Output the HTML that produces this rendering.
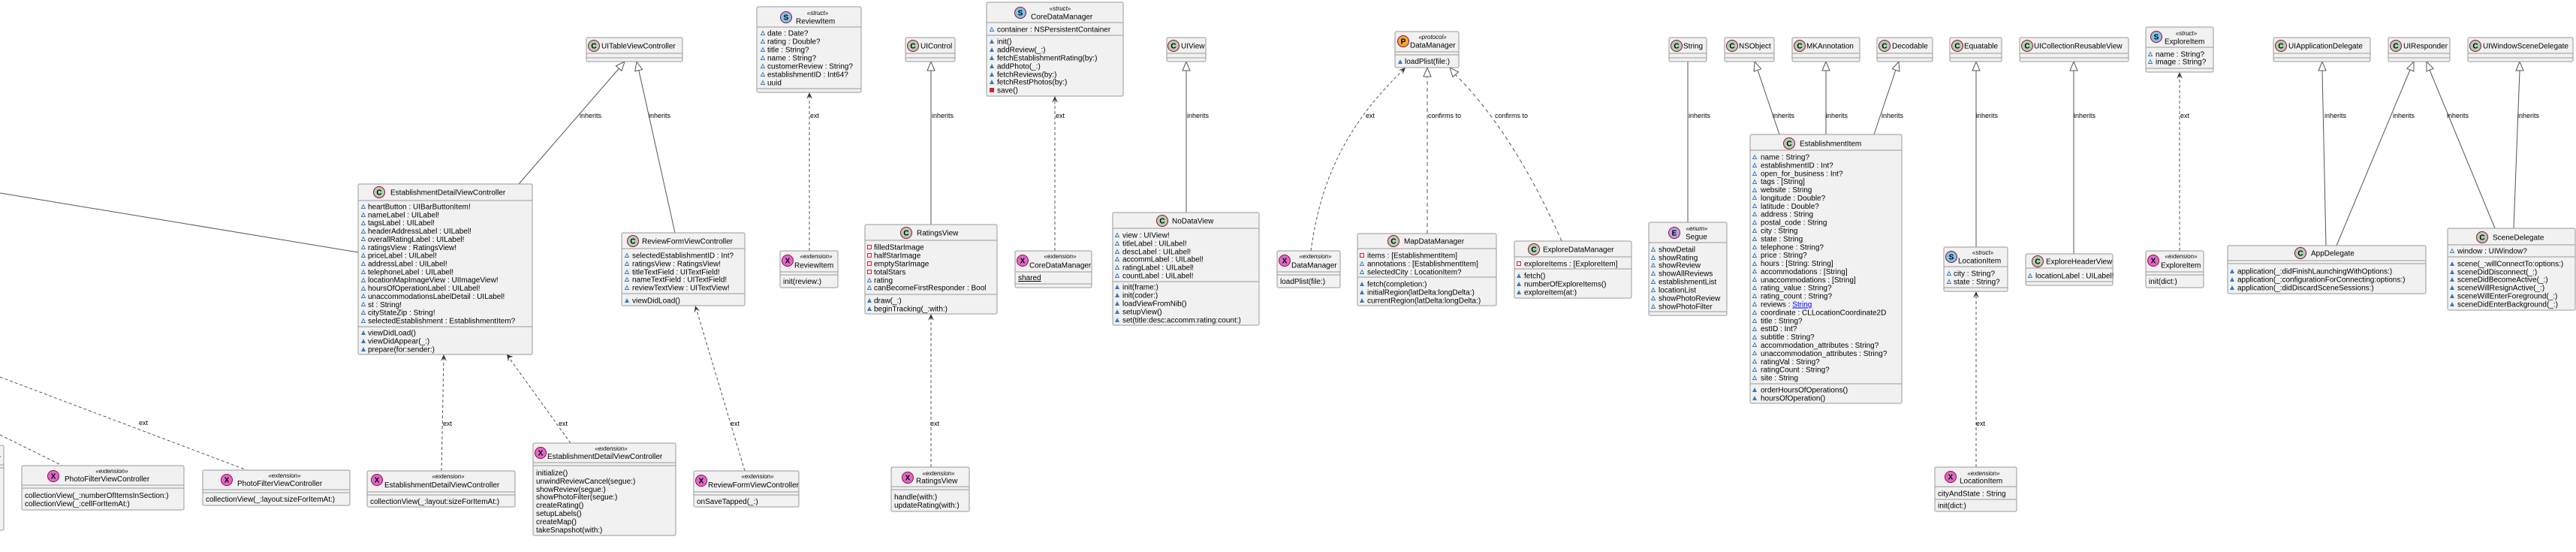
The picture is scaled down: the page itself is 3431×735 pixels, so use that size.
<!DOCTYPE html>
<html><head><meta charset="utf-8"><style>
html,body{margin:0;padding:0;background:#fff;}
svg{display:block;}
text{font-family:"Liberation Sans",sans-serif;font-size:10px;fill:#000;}
.st{font-style:italic;font-size:8px;}
.lb{font-size:9px;}
.ic{font-weight:bold;font-size:10px;}
.b{fill:#F1F1F1;stroke:#999;stroke-width:1;}
.sp{stroke:#999;stroke-width:1;}
.ln{stroke:#555;stroke-width:1;fill:none;}
.dl{stroke:#555;stroke-width:1;fill:none;stroke-dasharray:4,3;}
.tri{fill:#fff;stroke:#555;stroke-width:1;}
.ar{fill:#333;}
</style></head><body>
<svg width="3431" height="735" viewBox="0 0 3431 735" xmlns="http://www.w3.org/2000/svg">
<defs>
<g id="fa"><path d="M0.5,5.5 L3,0.5 L5.5,5.5Z" fill="none" stroke="#3a78b8" stroke-width="0.9"/></g>
<g id="ma"><path d="M0,6 L3,0 L6,6Z" fill="#3a78b8"/></g>
<g id="fp"><rect x="0.5" y="0.5" width="5" height="5" fill="none" stroke="#c82930"/></g>
<g id="mp"><rect width="6" height="6" fill="#c82930"/></g>
</defs>

<!-- ========== connectors ========== -->
<line class="ln" x1="0" y1="257" x2="477" y2="336"/>
<line class="dl" x1="0" y1="502" x2="329" y2="626"/>
<text class="lb" x="185" y="566">ext</text>
<line class="dl" x1="0" y1="579" x2="83" y2="620"/>

<!-- UITableViewController -->
<line class="ln" x1="691" y1="245" x2="828" y2="87"/>
<polygon class="tri" points="832,82 828,94.4 820.4,87.8"/>
<text class="lb" x="772" y="157">inherits</text>
<line class="ln" x1="899" y1="310" x2="850" y2="90"/>
<polygon class="tri" points="848,82 855.5,92.6 845.7,94.8"/>
<text class="lb" x="864" y="157">inherits</text>

<!-- EDVC ext -->
<line class="dl" x1="588" y1="627" x2="591" y2="476"/>
<polygon class="ar" points="591,472 587,481 591,477 595,481"/>
<text class="lb" x="590" y="567">ext</text>
<line class="dl" x1="760" y1="590" x2="677" y2="475"/>
<polygon class="ar" points="675,472 677,481.6 677.9,476.1 683.5,475"/>
<text class="lb" x="744" y="567">ext</text>
<line class="dl" x1="992" y1="627" x2="927" y2="410"/>
<polygon class="ar" points="926,407 924.8,416.8 927.4,411.8 932.2,414.5"/>
<text class="lb" x="973" y="567">ext</text>

<!-- ReviewItem ext -->
<line class="dl" x1="1078" y1="334" x2="1078" y2="127"/>
<polygon class="ar" points="1078,123 1074,132 1078,128 1082,132"/>
<text class="lb" x="1079" y="157">ext</text>

<!-- UIControl -->
<line class="ln" x1="1240" y1="299" x2="1240" y2="94"/>
<polygon class="tri" points="1240,82 1235,94 1245,94"/>
<text class="lb" x="1241" y="157">inherits</text>
<line class="dl" x1="1240" y1="622" x2="1240" y2="422"/>
<polygon class="ar" points="1240,418 1236,427 1240,423 1244,427"/>
<text class="lb" x="1239" y="567">ext</text>

<!-- CoreDataManager ext -->
<line class="dl" x1="1405" y1="334" x2="1405" y2="132"/>
<polygon class="ar" points="1405,128 1401,137 1405,133 1409,137"/>
<text class="lb" x="1406" y="157">ext</text>

<!-- UIView -->
<line class="ln" x1="1580" y1="283" x2="1580" y2="94"/>
<polygon class="tri" points="1580,82 1575,94 1585,94"/>
<text class="lb" x="1581" y="157">inherits</text>

<!-- DataManager -->
<path class="dl" d="M1746,334 C1760,230 1800,160 1869,93"/>
<polygon class="ar" points="1872,90 1862.7,93.4 1868.4,93.5 1868.3,99.2"/>
<text class="lb" x="1819" y="157">ext</text>
<line class="ln" x1="1901" y1="311" x2="1901" y2="102" stroke-dasharray="5,4"/>
<polygon class="tri" points="1901,90 1896,102 1906,102"/>
<text class="lb" x="1902" y="157">confirms to</text>
<path class="ln" stroke-dasharray="5,4" d="M2080,321 C2040,230 1990,150 1938,99"/>
<polygon class="tri" points="1931,90 1942.6,95.9 1935,102.4"/>
<text class="lb" x="1991" y="157">confirms to</text>

<!-- String/NSObject/MK/Decodable -->
<line class="ln" x1="2248" y1="296" x2="2248" y2="82"/>
<text class="lb" x="2249" y="157">inherits</text>
<line class="ln" x1="2370" y1="179" x2="2341" y2="93"/>
<polygon class="tri" points="2337,82 2345.6,91.8 2336.1,95"/>
<text class="lb" x="2361" y="157">inherits</text>
<line class="ln" x1="2432" y1="179" x2="2432" y2="94"/>
<polygon class="tri" points="2432,82 2427,94 2437,94"/>
<text class="lb" x="2432" y="157">inherits</text>
<line class="ln" x1="2496" y1="179" x2="2525" y2="93"/>
<polygon class="tri" points="2529,82 2529.9,95 2520.4,91.8"/>
<text class="lb" x="2506" y="157">inherits</text>
<line class="ln" x1="2632" y1="329" x2="2632" y2="94"/>
<polygon class="tri" points="2632,82 2627,94 2637,94"/>
<text class="lb" x="2632" y="157">inherits</text>
<line class="ln" x1="2762" y1="338" x2="2762" y2="94"/>
<polygon class="tri" points="2762,82 2757,94 2767,94"/>
<text class="lb" x="2762" y="157">inherits</text>
<line class="dl" x1="2903" y1="334" x2="2903" y2="100"/>
<polygon class="ar" points="2903,96 2899,105 2903,101 2907,105"/>
<text class="lb" x="2904" y="157">ext</text>
<line class="dl" x1="2632" y1="622" x2="2632" y2="392"/>
<polygon class="ar" points="2632,388 2628,397 2632,393 2636,397"/>
<text class="lb" x="2632" y="567">ext</text>

<!-- App/Scene -->
<line class="ln" x1="3098" y1="327" x2="3093" y2="94"/>
<polygon class="tri" points="3093,82 3088,94 3098,94"/>
<text class="lb" x="3096" y="157">inherits</text>
<line class="ln" x1="3112" y1="327" x2="3210" y2="93"/>
<polygon class="tri" points="3215,82 3215,95 3205.8,91.2"/>
<text class="lb" x="3187" y="157">inherits</text>
<line class="ln" x1="3323" y1="304" x2="3236" y2="93"/>
<polygon class="tri" points="3232,82 3241.1,91.2 3231.9,95"/>
<text class="lb" x="3259" y="157">inherits</text>
<line class="ln" x1="3348" y1="304" x2="3356" y2="94"/>
<polygon class="tri" points="3356,82 3351,94 3361,94"/>
<text class="lb" x="3353" y="157">inherits</text>

<!-- ========== boxes ========== -->
<!-- partial left box -->
<rect class="b" x="-50" y="593" width="55" height="113" rx="2"/>
<text x="-2" y="613">r</text>
<line class="sp" x1="-50" y1="619" x2="5" y2="619"/><line class="sp" x1="-50" y1="623" x2="5" y2="623"/>

<!-- PFVC ext1 -->
<rect class="b" x="29" y="620" width="216" height="59" rx="2"/>
<circle cx="71" cy="634" r="7.5" fill="#DA6BCB" stroke="#A80036"/><text class="ic" x="71" y="637.5" text-anchor="middle">X</text>
<text class="st" x="149" y="630" text-anchor="middle">«extension»</text>
<text x="86" y="641">PhotoFilterViewController</text>
<line class="sp" x1="29" y1="646" x2="245" y2="646"/><line class="sp" x1="29" y1="650" x2="245" y2="650"/>
<text x="33" y="663">collectionView(_:numberOfItemsInSection:)</text>
<text x="33" y="674">collectionView(_:cellForItemAt:)</text>

<!-- PFVC ext2 -->
<rect class="b" x="270" y="626" width="196" height="47" rx="2"/>
<circle cx="302" cy="639" r="7.5" fill="#DA6BCB" stroke="#A80036"/><text class="ic" x="302" y="642.5" text-anchor="middle">X</text>
<text class="st" x="379" y="636" text-anchor="middle">«extension»</text>
<text x="316" y="647">PhotoFilterViewController</text>
<line class="sp" x1="270" y1="652" x2="466" y2="652"/><line class="sp" x1="270" y1="656" x2="466" y2="656"/>
<text x="274" y="668">collectionView(_:layout:sizeForItemAt:)</text>

<!-- EDVC ext small -->
<rect class="b" x="489" y="627" width="197" height="48" rx="2"/>
<circle cx="502" cy="639" r="7.5" fill="#DA6BCB" stroke="#A80036"/><text class="ic" x="502" y="642.5" text-anchor="middle">X</text>
<text class="st" x="597" y="637" text-anchor="middle">«extension»</text>
<text x="512" y="649">EstablishmentDetailViewController</text>
<line class="sp" x1="489" y1="655" x2="686" y2="655"/><line class="sp" x1="489" y1="659" x2="686" y2="659"/>
<text x="493" y="671">collectionView(_:layout:sizeForItemAt:)</text>

<!-- EDVC ext big -->
<rect class="b" x="710" y="590" width="190" height="123" rx="2"/>
<circle cx="720" cy="603" r="7.5" fill="#DA6BCB" stroke="#A80036"/><text class="ic" x="720" y="606.5" text-anchor="middle">X</text>
<text class="st" x="814" y="600" text-anchor="middle">«extension»</text>
<text x="729" y="611">EstablishmentDetailViewController</text>
<line class="sp" x1="710" y1="616" x2="900" y2="616"/><line class="sp" x1="710" y1="620" x2="900" y2="620"/>
<text x="714" y="633">initialize()</text>
<text x="714" y="644">unwindReviewCancel(segue:)</text>
<text x="714" y="655">showReview(segue:)</text>
<text x="714" y="665">showPhotoFilter(segue:)</text>
<text x="714" y="676">createRating()</text>
<text x="714" y="687">setupLabels()</text>
<text x="714" y="698">createMap()</text>
<text x="714" y="709">takeSnapshot(with:)</text>

<!-- RFVC ext -->
<rect class="b" x="924" y="627" width="140" height="48" rx="2"/>
<circle cx="934" cy="640" r="7.5" fill="#DA6BCB" stroke="#A80036"/><text class="ic" x="934" y="643.5" text-anchor="middle">X</text>
<text class="st" x="1009" y="637" text-anchor="middle">«extension»</text>
<text x="943" y="649">ReviewFormViewController</text>
<line class="sp" x1="924" y1="655" x2="1064" y2="655"/><line class="sp" x1="924" y1="659" x2="1064" y2="659"/>
<text x="928" y="671">onSaveTapped(_:)</text>

<!-- EDVC -->
<rect class="b" x="477" y="245" width="232" height="227" rx="2"/>
<circle cx="505" cy="256" r="7.5" fill="#ADD1B2" stroke="#A80036"/><text class="ic" x="505" y="259.5" text-anchor="middle">C</text>
<text x="520" y="259.5">EstablishmentDetailViewController</text>
<line class="sp" x1="477" y1="267" x2="709" y2="267"/>
<use href="#fa" x="481" y="272"/><text x="490" y="278.5">heartButton : UIBarButtonItem!</text>
<use href="#fa" x="481" y="283"/><text x="490" y="289.4">nameLabel : UILabel!</text>
<use href="#fa" x="481" y="294"/><text x="490" y="300.2">tagsLabel : UILabel!</text>
<use href="#fa" x="481" y="305"/><text x="490" y="311.1">headerAddressLabel : UILabel!</text>
<use href="#fa" x="481" y="315"/><text x="490" y="321.9">overallRatingLabel : UILabel!</text>
<use href="#fa" x="481" y="326"/><text x="490" y="332.8">ratingsView : RatingsView!</text>
<use href="#fa" x="481" y="337"/><text x="490" y="343.7">priceLabel : UILabel!</text>
<use href="#fa" x="481" y="348"/><text x="490" y="354.5">addressLabel : UILabel!</text>
<use href="#fa" x="481" y="359"/><text x="490" y="365.4">telephoneLabel : UILabel!</text>
<use href="#fa" x="481" y="370"/><text x="490" y="376.2">locationMapImageView : UIImageView!</text>
<use href="#fa" x="481" y="381"/><text x="490" y="387.1">hoursOfOperationLabel : UILabel!</text>
<use href="#fa" x="481" y="391"/><text x="490" y="398">unaccommodationsLabelDetail : UILabel!</text>
<use href="#fa" x="481" y="402"/><text x="490" y="408.8">st : String!</text>
<use href="#fa" x="481" y="413"/><text x="490" y="419.7">cityStateZip : String!</text>
<use href="#fa" x="481" y="424"/><text x="490" y="430.5">selectedEstablishment : EstablishmentItem?</text>
<line class="sp" x1="477" y1="435" x2="709" y2="435"/>
<use href="#ma" x="481" y="440"/><text x="490" y="446.5">viewDidLoad()</text>
<use href="#ma" x="481" y="451"/><text x="490" y="457.5">viewDidAppear(_:)</text>
<use href="#ma" x="481" y="462"/><text x="490" y="468.5">prepare(for:sender:)</text>

<!-- RFVC -->
<rect class="b" x="828" y="310" width="164" height="97" rx="2"/>
<circle cx="843" cy="321" r="7.5" fill="#ADD1B2" stroke="#A80036"/><text class="ic" x="843" y="324.5" text-anchor="middle">C</text>
<text x="855" y="324.5">ReviewFormViewController</text>
<line class="sp" x1="828" y1="331" x2="992" y2="331"/>
<use href="#fa" x="832" y="337"/><text x="842" y="343.5">selectedEstablishmentID : Int?</text>
<use href="#fa" x="832" y="348"/><text x="842" y="354.5">ratingsView : RatingsView!</text>
<use href="#fa" x="832" y="359"/><text x="842" y="365.5">titleTextField : UITextField!</text>
<use href="#fa" x="832" y="369"/><text x="842" y="375.5">nameTextField : UITextField!</text>
<use href="#fa" x="832" y="380"/><text x="842" y="386.5">reviewTextView : UITextView!</text>
<line class="sp" x1="828" y1="391" x2="992" y2="391"/>
<use href="#ma" x="832" y="397"/><text x="842" y="403.5">viewDidLoad()</text>

<!-- UITableViewController -->
<rect class="b" x="781" y="50" width="128" height="32" rx="2"/>
<circle cx="791" cy="61" r="7.5" fill="#ADD1B2" stroke="#A80036"/><text class="ic" x="791" y="64.5" text-anchor="middle">C</text>
<text x="801" y="64.5">UITableViewController</text>
<line class="sp" x1="781" y1="71" x2="909" y2="71"/><line class="sp" x1="781" y1="77" x2="909" y2="77"/>

<!-- ReviewItem struct -->
<rect class="b" x="1008" y="9" width="139" height="114" rx="2"/>
<circle cx="1047" cy="23" r="7.5" fill="#7FC6E8" stroke="#A80036"/><text class="ic" x="1047" y="26.5" text-anchor="middle">S</text>
<text class="st" x="1089" y="20" text-anchor="middle">«struct»</text>
<text x="1060" y="31.5">ReviewItem</text>
<line class="sp" x1="1008" y1="36" x2="1147" y2="36"/>
<use href="#fa" x="1013" y="41"/><text x="1022" y="47.5">date : Date?</text>
<use href="#fa" x="1013" y="52"/><text x="1022" y="58.5">rating : Double?</text>
<use href="#fa" x="1013" y="63"/><text x="1022" y="69.5">title : String?</text>
<use href="#fa" x="1013" y="74"/><text x="1022" y="80.5">name : String?</text>
<use href="#fa" x="1013" y="85"/><text x="1022" y="91.5">customerReview : String?</text>
<use href="#fa" x="1013" y="96"/><text x="1022" y="102.5">establishmentID : Int64?</text>
<use href="#fa" x="1013" y="107"/><text x="1022" y="113.5">uuid</text>
<line class="sp" x1="1008" y1="118" x2="1147" y2="118"/>

<!-- ReviewItem ext -->
<rect class="b" x="1039" y="334" width="77" height="49" rx="2"/>
<circle cx="1049" cy="347" r="7.5" fill="#DA6BCB" stroke="#A80036"/><text class="ic" x="1049" y="350.5" text-anchor="middle">X</text>
<text class="st" x="1087" y="344" text-anchor="middle">«extension»</text>
<text x="1058" y="356.5">ReviewItem</text>
<line class="sp" x1="1039" y1="362" x2="1116" y2="362"/><line class="sp" x1="1039" y1="366" x2="1116" y2="366"/>
<text x="1043" y="378">init(review:)</text>

<!-- UIControl -->
<rect class="b" x="1206" y="50" width="66" height="32" rx="2"/>
<circle cx="1216" cy="61" r="7.5" fill="#ADD1B2" stroke="#A80036"/><text class="ic" x="1216" y="64.5" text-anchor="middle">C</text>
<text x="1226" y="64.5">UIControl</text>
<line class="sp" x1="1206" y1="71" x2="1272" y2="71"/><line class="sp" x1="1206" y1="77" x2="1272" y2="77"/>

<!-- RatingsView -->
<rect class="b" x="1152" y="299" width="176" height="119" rx="2"/>
<circle cx="1207" cy="310" r="7.5" fill="#ADD1B2" stroke="#A80036"/><text class="ic" x="1207" y="313.5" text-anchor="middle">C</text>
<text x="1221" y="313.5">RatingsView</text>
<line class="sp" x1="1152" y1="320" x2="1328" y2="320"/>
<use href="#fp" x="1155" y="326"/><text x="1164" y="332.5">filledStarImage</text>
<use href="#fp" x="1155" y="337"/><text x="1164" y="343.5">halfStarImage</text>
<use href="#fp" x="1155" y="348"/><text x="1164" y="354.5">emptyStarImage</text>
<use href="#fp" x="1155" y="359"/><text x="1164" y="365.5">totalStars</text>
<use href="#fa" x="1155" y="370"/><text x="1164" y="376.5">rating</text>
<use href="#fa" x="1155" y="380"/><text x="1164" y="386.5">canBecomeFirstResponder : Bool</text>
<line class="sp" x1="1152" y1="392" x2="1328" y2="392"/>
<use href="#ma" x="1155" y="397"/><text x="1164" y="403.5">draw(_:)</text>
<use href="#ma" x="1155" y="408"/><text x="1164" y="414.5">beginTracking(_:with:)</text>

<!-- RatingsView ext -->
<rect class="b" x="1187" y="622" width="104" height="59" rx="2"/>
<circle cx="1209" cy="636" r="7.5" fill="#DA6BCB" stroke="#A80036"/><text class="ic" x="1209" y="639.5" text-anchor="middle">X</text>
<text class="st" x="1250" y="633" text-anchor="middle">«extension»</text>
<text x="1220" y="643.5">RatingsView</text>
<line class="sp" x1="1187" y1="648" x2="1291" y2="648"/><line class="sp" x1="1187" y1="652" x2="1291" y2="652"/>
<text x="1191" y="665">handle(with:)</text>
<text x="1191" y="676">updateRating(with:)</text>

<!-- CoreDataManager struct -->
<rect class="b" x="1314" y="3" width="182" height="125" rx="2"/>
<circle cx="1359" cy="17" r="7.5" fill="#7FC6E8" stroke="#A80036"/><text class="ic" x="1359" y="20.5" text-anchor="middle">S</text>
<text class="st" x="1412" y="14" text-anchor="middle">«struct»</text>
<text x="1373" y="25.5">CoreDataManager</text>
<line class="sp" x1="1314" y1="30" x2="1496" y2="30"/>
<use href="#fa" x="1318" y="36"/><text x="1328" y="42.5">container : NSPersistentContainer</text>
<line class="sp" x1="1314" y1="47" x2="1496" y2="47"/>
<use href="#ma" x="1318" y="52"/><text x="1328" y="58.5">init()</text>
<use href="#ma" x="1318" y="63"/><text x="1328" y="69.5">addReview(_:)</text>
<use href="#ma" x="1318" y="74"/><text x="1328" y="80.5">fetchEstablishmentRating(by:)</text>
<use href="#ma" x="1318" y="85"/><text x="1328" y="91.5">addPhoto(_:)</text>
<use href="#ma" x="1318" y="96"/><text x="1328" y="102.5">fetchReviews(by:)</text>
<use href="#ma" x="1318" y="106"/><text x="1328" y="112.5">fetchRestPhotos(by:)</text>
<use href="#mp" x="1318" y="117"/><text x="1328" y="123.5">save()</text>

<!-- CoreDataManager ext -->
<rect class="b" x="1352" y="334" width="102" height="49" rx="2"/>
<circle cx="1362" cy="347" r="7.5" fill="#DA6BCB" stroke="#A80036"/><text class="ic" x="1362" y="350.5" text-anchor="middle">X</text>
<text class="st" x="1412" y="344" text-anchor="middle">«extension»</text>
<text x="1371" y="356.5">CoreDataManager</text>
<line class="sp" x1="1352" y1="362" x2="1454" y2="362"/>
<text x="1356" y="373" text-decoration="underline">shared</text>
<line class="sp" x1="1352" y1="378" x2="1454" y2="378"/>

<!-- UIView -->
<rect class="b" x="1554" y="50" width="52" height="32" rx="2"/>
<circle cx="1563" cy="61" r="7.5" fill="#ADD1B2" stroke="#A80036"/><text class="ic" x="1563" y="64.5" text-anchor="middle">C</text>
<text x="1573" y="64.5">UIView</text>
<line class="sp" x1="1554" y1="71" x2="1606" y2="71"/><line class="sp" x1="1554" y1="77" x2="1606" y2="77"/>

<!-- NoDataView -->
<rect class="b" x="1482" y="283" width="195" height="150" rx="2"/>
<circle cx="1548" cy="294" r="7.5" fill="#ADD1B2" stroke="#A80036"/><text class="ic" x="1548" y="297.5" text-anchor="middle">C</text>
<text x="1561" y="297.5">NoDataView</text>
<line class="sp" x1="1482" y1="304" x2="1677" y2="304"/>
<use href="#fa" x="1485" y="310"/><text x="1495" y="316.5">view : UIView!</text>
<use href="#fa" x="1485" y="321"/><text x="1495" y="327.5">titleLabel : UILabel!</text>
<use href="#fa" x="1485" y="332"/><text x="1495" y="338.5">descLabel : UILabel!</text>
<use href="#fa" x="1485" y="342"/><text x="1495" y="348.5">accommLabel : UILabel!</text>
<use href="#fa" x="1485" y="353"/><text x="1495" y="359.5">ratingLabel : UILabel!</text>
<use href="#fa" x="1485" y="364"/><text x="1495" y="370.5">countLabel : UILabel!</text>
<line class="sp" x1="1482" y1="375" x2="1677" y2="375"/>
<use href="#ma" x="1485" y="379"/><text x="1495" y="385.5">init(frame:)</text>
<use href="#ma" x="1485" y="390"/><text x="1495" y="396.5">init(coder:)</text>
<use href="#ma" x="1485" y="401"/><text x="1495" y="407.5">loadViewFromNib()</text>
<use href="#ma" x="1485" y="412"/><text x="1495" y="418.5">setupView()</text>
<use href="#ma" x="1485" y="423"/><text x="1495" y="429.5">set(title:desc:accomm:rating:count:)</text>

<!-- DataManager ext -->
<rect class="b" x="1701" y="334" width="84" height="49" rx="2"/>
<circle cx="1711" cy="347" r="7.5" fill="#DA6BCB" stroke="#A80036"/><text class="ic" x="1711" y="350.5" text-anchor="middle">X</text>
<text class="st" x="1752" y="344" text-anchor="middle">«extension»</text>
<text x="1720" y="356.5">DataManager</text>
<line class="sp" x1="1701" y1="362" x2="1785" y2="362"/><line class="sp" x1="1701" y1="366" x2="1785" y2="366"/>
<text x="1705" y="378">loadPlist(file:)</text>

<!-- DataManager protocol -->
<rect class="b" x="1858" y="42" width="85" height="48" rx="2"/>
<circle cx="1869" cy="55" r="7.5" fill="#F0A830" stroke="#A80036"/><text class="ic" x="1869" y="58.5" text-anchor="middle">P</text>
<text class="st" x="1908" y="52" text-anchor="middle">«protocol»</text>
<text x="1878" y="63.5">DataManager</text>
<line class="sp" x1="1858" y1="69" x2="1943" y2="69"/><line class="sp" x1="1858" y1="73" x2="1943" y2="73"/>
<use href="#ma" x="1862" y="79"/><text x="1871" y="85">loadPlist(file:)</text>

<!-- MapDataManager -->
<rect class="b" x="1808" y="311" width="185" height="96" rx="2"/>
<circle cx="1856" cy="321" r="7.5" fill="#ADD1B2" stroke="#A80036"/><text class="ic" x="1856" y="324.5" text-anchor="middle">C</text>
<text x="1870" y="324.5">MapDataManager</text>
<line class="sp" x1="1808" y1="331" x2="1993" y2="331"/>
<use href="#fp" x="1811" y="337"/><text x="1821" y="343.5">items : [EstablishmentItem]</text>
<use href="#fa" x="1811" y="348"/><text x="1821" y="354.5">annotations : [EstablishmentItem]</text>
<use href="#fa" x="1811" y="359"/><text x="1821" y="365.5">selectedCity : LocationItem?</text>
<line class="sp" x1="1808" y1="369" x2="1993" y2="369"/>
<use href="#ma" x="1811" y="375"/><text x="1821" y="381.5">fetch(completion:)</text>
<use href="#ma" x="1811" y="386"/><text x="1821" y="392.5">initialRegion(latDelta:longDelta:)</text>
<use href="#ma" x="1811" y="397"/><text x="1821" y="403.5">currentRegion(latDelta:longDelta:)</text>

<!-- ExploreDataManager -->
<rect class="b" x="2017" y="321" width="156" height="76" rx="2"/>
<circle cx="2043" cy="332" r="7.5" fill="#ADD1B2" stroke="#A80036"/><text class="ic" x="2043" y="335.5" text-anchor="middle">C</text>
<text x="2055" y="335.5">ExploreDataManager</text>
<line class="sp" x1="2017" y1="342" x2="2173" y2="342"/>
<use href="#fp" x="2020" y="348"/><text x="2030" y="354.5">exploreItems : [ExploreItem]</text>
<line class="sp" x1="2017" y1="358" x2="2173" y2="358"/>
<use href="#ma" x="2020" y="364"/><text x="2030" y="370.5">fetch()</text>
<use href="#ma" x="2020" y="375"/><text x="2030" y="381.5">numberOfExploreItems()</text>
<use href="#ma" x="2020" y="386"/><text x="2030" y="392.5">exploreItem(at:)</text>

<!-- top simple classes -->
<rect class="b" x="2223" y="50" width="50" height="32" rx="2"/>
<circle cx="2233" cy="61" r="7.5" fill="#ADD1B2" stroke="#A80036"/><text class="ic" x="2233" y="64.5" text-anchor="middle">C</text>
<text x="2242" y="64.5">String</text>
<line class="sp" x1="2223" y1="71" x2="2273" y2="71"/><line class="sp" x1="2223" y1="77" x2="2273" y2="77"/>

<rect class="b" x="2297" y="50" width="66" height="32" rx="2"/>
<circle cx="2307" cy="61" r="7.5" fill="#ADD1B2" stroke="#A80036"/><text class="ic" x="2307" y="64.5" text-anchor="middle">C</text>
<text x="2316" y="64.5">NSObject</text>
<line class="sp" x1="2297" y1="71" x2="2363" y2="71"/><line class="sp" x1="2297" y1="77" x2="2363" y2="77"/>

<rect class="b" x="2387" y="50" width="90" height="32" rx="2"/>
<circle cx="2397" cy="61" r="7.5" fill="#ADD1B2" stroke="#A80036"/><text class="ic" x="2397" y="64.5" text-anchor="middle">C</text>
<text x="2406" y="64.5">MKAnnotation</text>
<line class="sp" x1="2387" y1="71" x2="2477" y2="71"/><line class="sp" x1="2387" y1="77" x2="2477" y2="77"/>

<rect class="b" x="2500" y="50" width="74" height="32" rx="2"/>
<circle cx="2510" cy="61" r="7.5" fill="#ADD1B2" stroke="#A80036"/><text class="ic" x="2510" y="64.5" text-anchor="middle">C</text>
<text x="2520" y="64.5">Decodable</text>
<line class="sp" x1="2500" y1="71" x2="2574" y2="71"/><line class="sp" x1="2500" y1="77" x2="2574" y2="77"/>

<rect class="b" x="2597" y="50" width="69" height="32" rx="2"/>
<circle cx="2607" cy="61" r="7.5" fill="#ADD1B2" stroke="#A80036"/><text class="ic" x="2607" y="64.5" text-anchor="middle">C</text>
<text x="2616" y="64.5">Equatable</text>
<line class="sp" x1="2597" y1="71" x2="2666" y2="71"/><line class="sp" x1="2597" y1="77" x2="2666" y2="77"/>

<rect class="b" x="2690" y="50" width="145" height="32" rx="2"/>
<circle cx="2700" cy="61" r="7.5" fill="#ADD1B2" stroke="#A80036"/><text class="ic" x="2700" y="64.5" text-anchor="middle">C</text>
<text x="2709" y="64.5">UICollectionReusableView</text>
<line class="sp" x1="2690" y1="71" x2="2835" y2="71"/><line class="sp" x1="2690" y1="77" x2="2835" y2="77"/>

<!-- Segue -->
<rect class="b" x="2196" y="296" width="104" height="124" rx="2"/>
<circle cx="2230" cy="310" r="7.5" fill="#B4A7E5" stroke="#A80036"/><text class="ic" x="2230" y="313.5" text-anchor="middle">E</text>
<text class="st" x="2260" y="307" text-anchor="middle">«enum»</text>
<text x="2245" y="318.5">Segue</text>
<line class="sp" x1="2196" y1="323" x2="2300" y2="323"/>
<use href="#fa" x="2199" y="329"/><text x="2209" y="335.5">showDetail</text>
<use href="#fa" x="2199" y="340"/><text x="2209" y="346.5">showRating</text>
<use href="#fa" x="2199" y="350"/><text x="2209" y="356.5">showReview</text>
<use href="#fa" x="2199" y="361"/><text x="2209" y="367.5">showAllReviews</text>
<use href="#fa" x="2199" y="372"/><text x="2209" y="378.5">establishmentList</text>
<use href="#fa" x="2199" y="383"/><text x="2209" y="389.5">locationList</text>
<use href="#fa" x="2199" y="394"/><text x="2209" y="400.5">showPhotoReview</text>
<use href="#fa" x="2199" y="405"/><text x="2209" y="411.5">showPhotoFilter</text>
<line class="sp" x1="2196" y1="415" x2="2300" y2="415"/>

<!-- EstablishmentItem -->
<rect class="b" x="2331" y="179" width="202" height="358" rx="2"/>
<circle cx="2383" cy="191" r="7.5" fill="#ADD1B2" stroke="#A80036"/><text class="ic" x="2383" y="194.5" text-anchor="middle">C</text>
<text x="2397" y="194.5">EstablishmentItem</text>
<line class="sp" x1="2331" y1="200" x2="2533" y2="200"/>
<use href="#fa" x="2334" y="206"/><text x="2345" y="212.5">name : String?</text>
<use href="#fa" x="2334" y="217"/><text x="2345" y="223.4">establishmentID : Int?</text>
<use href="#fa" x="2334" y="228"/><text x="2345" y="234.3">open_for_business : Int?</text>
<use href="#fa" x="2334" y="239"/><text x="2345" y="245.2">tags : [String]</text>
<use href="#fa" x="2334" y="250"/><text x="2345" y="256.1">website : String</text>
<use href="#fa" x="2334" y="260"/><text x="2345" y="267">longitude : Double?</text>
<use href="#fa" x="2334" y="271"/><text x="2345" y="277.8">latitude : Double?</text>
<use href="#fa" x="2334" y="282"/><text x="2345" y="288.7">address : String</text>
<use href="#fa" x="2334" y="293"/><text x="2345" y="299.6">postal_code : String</text>
<use href="#fa" x="2334" y="304"/><text x="2345" y="310.5">city : String</text>
<use href="#fa" x="2334" y="315"/><text x="2345" y="321.4">state : String</text>
<use href="#fa" x="2334" y="326"/><text x="2345" y="332.3">telephone : String?</text>
<use href="#fa" x="2334" y="337"/><text x="2345" y="343.2">price : String?</text>
<use href="#fa" x="2334" y="348"/><text x="2345" y="354.1">hours : [String: String]</text>
<use href="#fa" x="2334" y="358"/><text x="2345" y="365">accommodations : [String]</text>
<use href="#fa" x="2334" y="369"/><text x="2345" y="375.9">unaccommodations : [String]</text>
<use href="#fa" x="2334" y="380"/><text x="2345" y="386.7">rating_value : String?</text>
<use href="#fa" x="2334" y="391"/><text x="2345" y="397.6">rating_count : String?</text>
<use href="#fa" x="2334" y="402"/><text x="2345" y="408.5">reviews : <tspan fill="#0000ff" text-decoration="underline">String</tspan></text>
<use href="#fa" x="2334" y="413"/><text x="2345" y="419.4">coordinate : CLLocationCoordinate2D</text>
<use href="#fa" x="2334" y="424"/><text x="2345" y="430.3">title : String?</text>
<use href="#fa" x="2334" y="435"/><text x="2345" y="441.2">estID : Int?</text>
<use href="#fa" x="2334" y="446"/><text x="2345" y="452.1">subtitle : String?</text>
<use href="#fa" x="2334" y="456"/><text x="2345" y="463">accommodation_attributes : String?</text>
<use href="#fa" x="2334" y="467"/><text x="2345" y="473.9">unaccommodation_attributes : String?</text>
<use href="#fa" x="2334" y="478"/><text x="2345" y="484.8">ratingVal : String?</text>
<use href="#fa" x="2334" y="489"/><text x="2345" y="495.6">ratingCount : String?</text>
<use href="#fa" x="2334" y="500"/><text x="2345" y="506.5">site : String</text>
<line class="sp" x1="2331" y1="511" x2="2533" y2="511"/>
<use href="#ma" x="2334" y="516"/><text x="2345" y="522.5">orderHoursOfOperations()</text>
<use href="#ma" x="2334" y="527"/><text x="2345" y="533.5">hoursOfOperation()</text>

<!-- LocationItem struct -->
<rect class="b" x="2589" y="329" width="85" height="59" rx="2"/>
<circle cx="2599" cy="342" r="7.5" fill="#7FC6E8" stroke="#A80036"/><text class="ic" x="2599" y="345.5" text-anchor="middle">S</text>
<text class="st" x="2641" y="339" text-anchor="middle">«struct»</text>
<text x="2608" y="350.5">LocationItem</text>
<line class="sp" x1="2589" y1="355" x2="2674" y2="355"/>
<use href="#fa" x="2593" y="361"/><text x="2602" y="367.5">city : String?</text>
<use href="#fa" x="2593" y="372"/><text x="2602" y="378.5">state : String?</text>
<line class="sp" x1="2589" y1="383" x2="2674" y2="383"/>

<!-- ExploreHeaderView -->
<rect class="b" x="2698" y="338" width="116" height="42" rx="2"/>
<circle cx="2714" cy="348" r="7.5" fill="#ADD1B2" stroke="#A80036"/><text class="ic" x="2714" y="351.5" text-anchor="middle">C</text>
<text x="2725" y="351.5">ExploreHeaderView</text>
<line class="sp" x1="2698" y1="357" x2="2814" y2="357"/>
<use href="#fa" x="2701" y="364"/><text x="2711" y="370.5">locationLabel : UILabel!</text>
<line class="sp" x1="2698" y1="375" x2="2814" y2="375"/>

<!-- LocationItem ext -->
<rect class="b" x="2577" y="622" width="109" height="59" rx="2"/>
<circle cx="2598" cy="635" r="7.5" fill="#DA6BCB" stroke="#A80036"/><text class="ic" x="2598" y="638.5" text-anchor="middle">X</text>
<text class="st" x="2642" y="633" text-anchor="middle">«extension»</text>
<text x="2610" y="643.5">LocationItem</text>
<line class="sp" x1="2577" y1="648" x2="2686" y2="648"/>
<text x="2581" y="660.5">cityAndState : String</text>
<line class="sp" x1="2577" y1="665" x2="2686" y2="665"/>
<text x="2581" y="676.5">init(dict:)</text>

<!-- ExploreItem struct -->
<rect class="b" x="2858" y="36" width="90" height="60" rx="2"/>
<circle cx="2872" cy="49" r="7.5" fill="#7FC6E8" stroke="#A80036"/><text class="ic" x="2872" y="52.5" text-anchor="middle">S</text>
<text class="st" x="2912" y="47" text-anchor="middle">«struct»</text>
<text x="2883" y="58.5">ExploreItem</text>
<line class="sp" x1="2858" y1="63" x2="2948" y2="63"/>
<use href="#fa" x="2861" y="69"/><text x="2871" y="75.5">name : String?</text>
<use href="#fa" x="2861" y="79"/><text x="2871" y="85.5">image : String?</text>
<line class="sp" x1="2858" y1="91" x2="2948" y2="91"/>

<!-- ExploreItem ext -->
<rect class="b" x="2858" y="334" width="77" height="49" rx="2"/>
<circle cx="2868" cy="347" r="7.5" fill="#DA6BCB" stroke="#A80036"/><text class="ic" x="2868" y="350.5" text-anchor="middle">X</text>
<text class="st" x="2905" y="344" text-anchor="middle">«extension»</text>
<text x="2878" y="356.5">ExploreItem</text>
<line class="sp" x1="2858" y1="362" x2="2935" y2="362"/><line class="sp" x1="2858" y1="366" x2="2935" y2="366"/>
<text x="2862" y="378">init(dict:)</text>

<!-- UIApplicationDelegate / UIResponder / UIWindowSceneDelegate -->
<rect class="b" x="3028" y="50" width="129" height="32" rx="2"/>
<circle cx="3038" cy="61" r="7.5" fill="#ADD1B2" stroke="#A80036"/><text class="ic" x="3038" y="64.5" text-anchor="middle">C</text>
<text x="3048" y="64.5">UIApplicationDelegate</text>
<line class="sp" x1="3028" y1="71" x2="3157" y2="71"/><line class="sp" x1="3028" y1="77" x2="3157" y2="77"/>

<rect class="b" x="3181" y="50" width="82" height="32" rx="2"/>
<circle cx="3191" cy="61" r="7.5" fill="#ADD1B2" stroke="#A80036"/><text class="ic" x="3191" y="64.5" text-anchor="middle">C</text>
<text x="3201" y="64.5">UIResponder</text>
<line class="sp" x1="3181" y1="71" x2="3263" y2="71"/><line class="sp" x1="3181" y1="77" x2="3263" y2="77"/>

<rect class="b" x="3287" y="50" width="140" height="32" rx="2"/>
<circle cx="3297" cy="61" r="7.5" fill="#ADD1B2" stroke="#A80036"/><text class="ic" x="3297" y="64.5" text-anchor="middle">C</text>
<text x="3307" y="64.5">UIWindowSceneDelegate</text>
<line class="sp" x1="3287" y1="71" x2="3427" y2="71"/><line class="sp" x1="3287" y1="77" x2="3427" y2="77"/>

<!-- AppDelegate -->
<rect class="b" x="2967" y="327" width="264" height="64" rx="2"/>
<circle cx="3064" cy="337" r="7.5" fill="#ADD1B2" stroke="#A80036"/><text class="ic" x="3064" y="340.5" text-anchor="middle">C</text>
<text x="3078" y="340.5">AppDelegate</text>
<line class="sp" x1="2967" y1="347" x2="3231" y2="347"/><line class="sp" x1="2967" y1="351" x2="3231" y2="351"/>
<use href="#ma" x="2970" y="358"/><text x="2980" y="364.5">application(_:didFinishLaunchingWithOptions:)</text>
<use href="#ma" x="2970" y="369"/><text x="2980" y="375.5">application(_:configurationForConnecting:options:)</text>
<use href="#ma" x="2970" y="380"/><text x="2980" y="386.5">application(_:didDiscardSceneSessions:)</text>

<!-- SceneDelegate -->
<rect class="b" x="3260" y="304" width="170" height="109" rx="2"/>
<circle cx="3306" cy="316" r="7.5" fill="#ADD1B2" stroke="#A80036"/><text class="ic" x="3306" y="319.5" text-anchor="middle">C</text>
<text x="3320" y="319.5">SceneDelegate</text>
<line class="sp" x1="3260" y1="326" x2="3430" y2="326"/>
<use href="#fa" x="3263" y="331"/><text x="3273" y="337.5">window : UIWindow?</text>
<line class="sp" x1="3260" y1="342" x2="3430" y2="342"/>
<use href="#ma" x="3263" y="348"/><text x="3273" y="354.5">scene(_:willConnectTo:options:)</text>
<use href="#ma" x="3263" y="359"/><text x="3273" y="365.5">sceneDidDisconnect(_:)</text>
<use href="#ma" x="3263" y="369"/><text x="3273" y="375.5">sceneDidBecomeActive(_:)</text>
<use href="#ma" x="3263" y="380"/><text x="3273" y="386.5">sceneWillResignActive(_:)</text>
<use href="#ma" x="3263" y="391"/><text x="3273" y="397.5">sceneWillEnterForeground(_:)</text>
<use href="#ma" x="3263" y="402"/><text x="3273" y="408.5">sceneDidEnterBackground(_:)</text>
</svg>
</body></html>
